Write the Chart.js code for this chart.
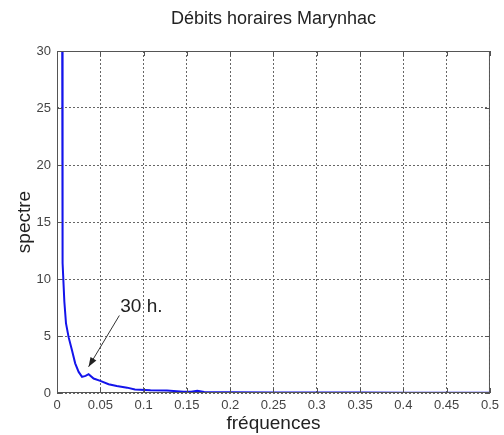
<!DOCTYPE html>
<html>
<head>
<meta charset="utf-8">
<script src="https://cdn.jsdelivr.net/npm/chart.js@4/dist/chart.umd.min.js"></script>
<style>
  body { margin: 0; background: #fff; }
  #wrap { width: 504px; height: 435px; }
</style>
</head>
<body>
<div id="wrap"><canvas id="myChart" width="504" height="435"></canvas></div>
<script>
// spectre des débits horaires
const freq = [0.0058, 0.0061, 0.0068, 0.0085, 0.0104, 0.0134, 0.0173, 0.021, 0.025, 0.0289, 0.033, 0.0365,
    0.0423, 0.05, 0.0596, 0.069, 0.081, 0.09, 0.108, 0.127, 0.146, 0.155, 0.162, 0.17, 0.2, 0.25, 0.3,
    0.35, 0.4, 0.45, 0.5];
const spectre = [40, 15, 11.4, 8, 6.1, 4.9, 3.76, 2.6, 1.85, 1.41, 1.5, 1.65,
    1.27, 1.06, 0.77, 0.62, 0.47, 0.3, 0.24, 0.21, 0.12, 0.12, 0.2, 0.08, 0.06, 0.05, 0.04,
    0.04, 0.03, 0.03, 0.03];
const xTicks = [0, 0.05, 0.1, 0.15, 0.2, 0.25, 0.3, 0.35, 0.4, 0.45, 0.5];
const yTicks = [0, 5, 10, 15, 20, 25, 30];
const titre = 'Débits horaires Marynhac';
const note = { text: '30 h.', x: 0.073, y: 7.6, fromX: 0.072, fromY: 6.8, toX: 0.0365, toY: 2.3 };

const points = freq.map(function (f, i) { return { x: f, y: spectre[i] }; });
const police = '"Liberation Sans", Arial, sans-serif';

// cadre + graduations vers l'intérieur, titre, annotation
const frame = {
    id: 'frame',
    afterDraw: function (chart) {
        const ctx = chart.ctx;
        const a = chart.chartArea;
        const xs = chart.scales.x, ys = chart.scales.y;
        ctx.save();
        ctx.strokeStyle = '#555';
        ctx.lineWidth = 1;
        ctx.setLineDash([]);
        ctx.strokeRect(a.left + 0.5, a.top + 0.5, a.right - a.left - 1, a.bottom - a.top - 1);
        ctx.beginPath();
        xTicks.forEach(function (v) {
            const px = Math.round(xs.getPixelForValue(v)) + 0.5;
            ctx.moveTo(px, a.bottom); ctx.lineTo(px, a.bottom - 5);
            ctx.moveTo(px, a.top); ctx.lineTo(px, a.top + 5);
        });
        yTicks.forEach(function (v) {
            const py = Math.round(ys.getPixelForValue(v)) + 0.5;
            ctx.moveTo(a.left, py); ctx.lineTo(a.left + 5, py);
            ctx.moveTo(a.right, py); ctx.lineTo(a.right - 5, py);
        });
        ctx.stroke();

        // titre centré sur la zone du graphique
        ctx.fillStyle = '#222';
        ctx.font = '18px ' + police;
        ctx.textAlign = 'center';
        ctx.textBaseline = 'middle';
        ctx.fillText(titre, (a.left + a.right) / 2, 19);

        // flèche "30 h."
        const x1 = xs.getPixelForValue(note.fromX), y1 = ys.getPixelForValue(note.fromY);
        const x2 = xs.getPixelForValue(note.toX), y2 = ys.getPixelForValue(note.toY);
        ctx.strokeStyle = '#333';
        ctx.lineWidth = 1;
        ctx.beginPath();
        ctx.moveTo(x1, y1); ctx.lineTo(x2, y2);
        ctx.stroke();
        const ang = Math.atan2(y2 - y1, x2 - x1);
        ctx.beginPath();
        ctx.moveTo(x2, y2);
        ctx.lineTo(x2 - 10 * Math.cos(ang - 0.35), y2 - 10 * Math.sin(ang - 0.35));
        ctx.lineTo(x2 - 10 * Math.cos(ang + 0.35), y2 - 10 * Math.sin(ang + 0.35));
        ctx.closePath();
        ctx.fill();
        ctx.font = '19px ' + police;
        ctx.textAlign = 'left';
        ctx.fillText(note.text, xs.getPixelForValue(note.x), ys.getPixelForValue(note.y));
        ctx.restore();
    }
};

const config = {
    type: 'line',
    data: {
        datasets: [{
            data: points,
            borderColor: 'rgb(20, 20, 235)',
            borderWidth: 2,
            pointRadius: 0,
            tension: 0,
            fill: false
        }]
    },
    options: {
        responsive: false,
        animation: false,
        layout: { padding: { left: 0, right: 14, top: 51, bottom: 0 } },
        plugins: {
            legend: { display: false },
            tooltip: { enabled: false },
            title: { display: false }
        },
        scales: {
            x: {
                type: 'linear',
                min: 0,
                max: 0.5,
                afterBuildTicks: function (scale) { scale.ticks = xTicks.map(function (v) { return { value: v }; }); },
                afterFit: function (scale) { scale.height = 42; },
                grid: { color: '#666', drawTicks: false },
                border: { display: false, dash: [2, 2] },
                ticks: {
                    color: '#444',
                    padding: 5,
                    maxRotation: 0,
                    autoSkip: false,
                    font: { family: police, size: 13 },
                    callback: function (v) { return String(Number(v.toFixed(2))); }
                },
                title: {
                    display: true,
                    text: 'fréquences',
                    color: '#222',
                    font: { family: police, size: 19 },
                    padding: { top: 0, bottom: 0 }
                }
            },
            y: {
                type: 'linear',
                min: 0,
                max: 30,
                afterBuildTicks: function (scale) { scale.ticks = yTicks.map(function (v) { return { value: v }; }); },
                afterFit: function (scale) { scale.width = 57; },
                grid: { color: '#666', drawTicks: false },
                border: { display: false, dash: [2, 2] },
                ticks: {
                    color: '#444',
                    padding: 6,
                    autoSkip: false,
                    font: { family: police, size: 13 }
                },
                title: {
                    display: true,
                    text: 'spectre',
                    color: '#222',
                    font: { family: police, size: 19 },
                    padding: { top: 13, bottom: 0 }
                }
            }
        }
    },
    plugins: [frame]
};

const myChart = new Chart(document.getElementById('myChart'), config);
</script>
</body>
</html>
